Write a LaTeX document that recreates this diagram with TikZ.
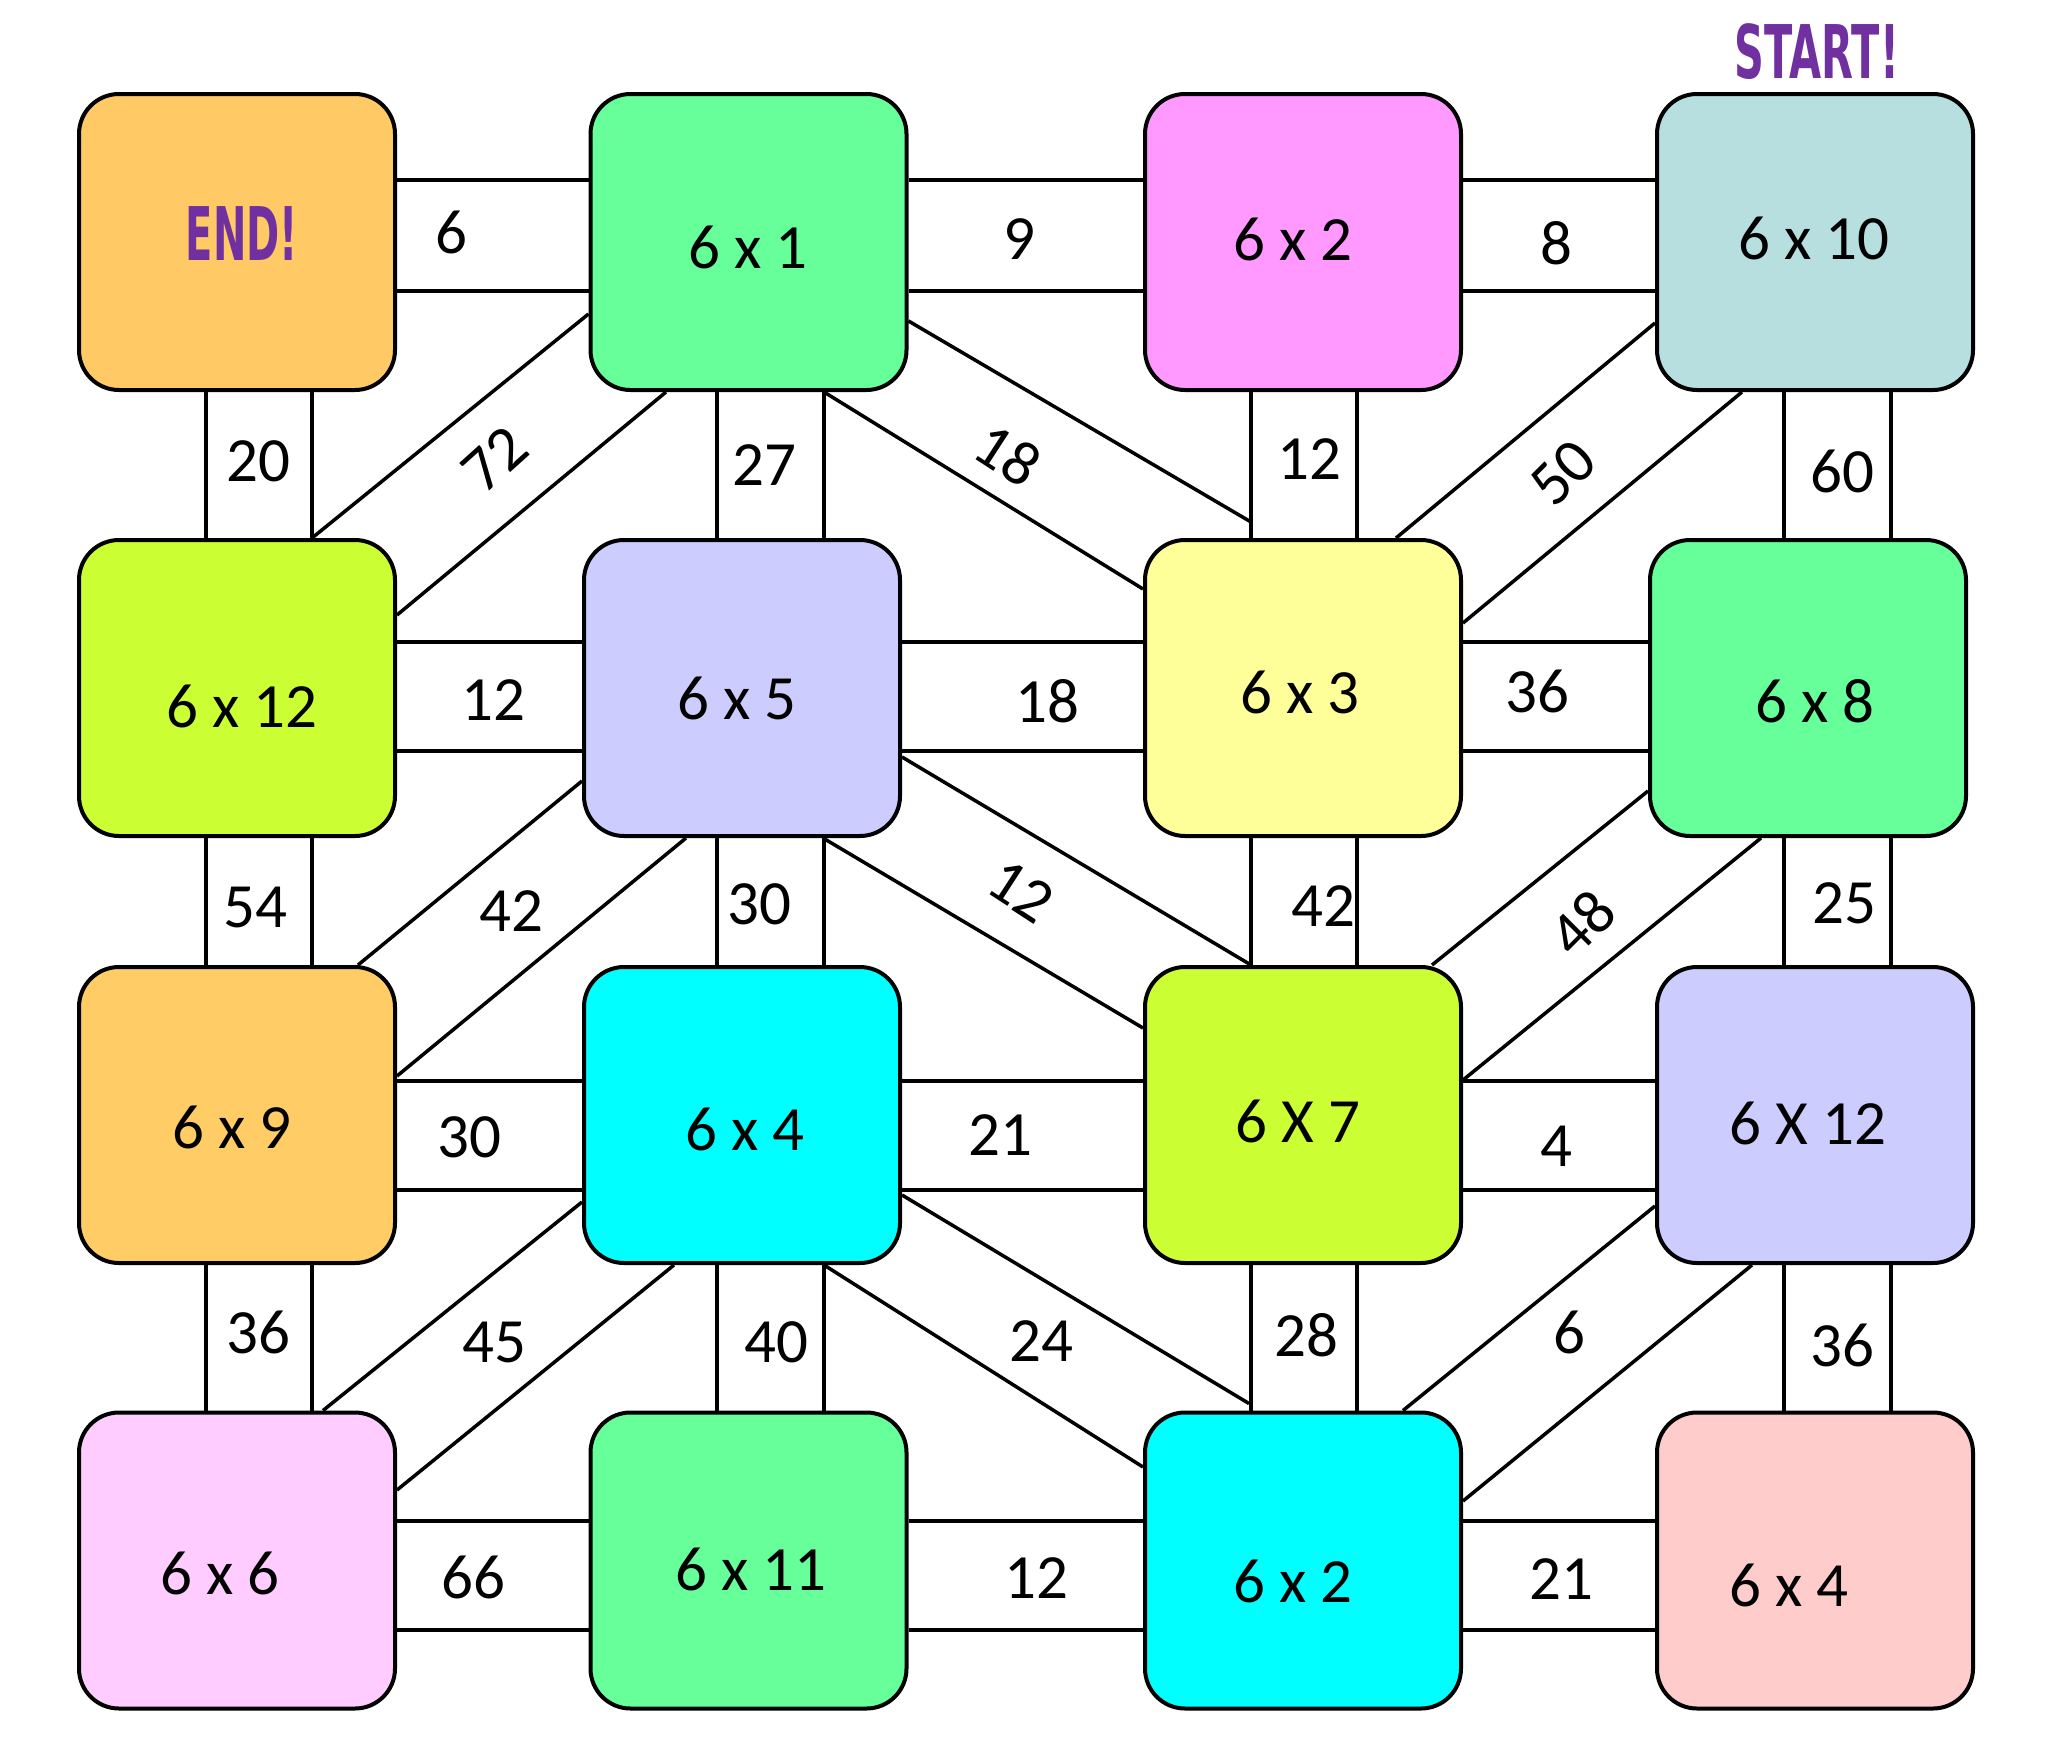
\documentclass[tikz,border=0pt]{standalone}
\usepackage{fontspec}
\usepackage{graphicx}
\setmainfont{Carlito}
\newfontfamily\handfont{DejaVu Sans}
\definecolor{cEnd}{HTML}{FFC966}
\definecolor{cMint}{HTML}{66FF99}
\definecolor{cMag}{HTML}{FF99FF}
\definecolor{cBlueGr}{HTML}{B7DFE0}
\definecolor{cLime}{HTML}{CCFF33}
\definecolor{cLav}{HTML}{CCCCFF}
\definecolor{cYel}{HTML}{FFFF99}
\definecolor{cOra}{HTML}{FFCC66}
\definecolor{cCyan}{HTML}{00FFFF}
\definecolor{cPinkL}{HTML}{FFCCFF}
\definecolor{cRose}{HTML}{FFCCCC}
\definecolor{cPurp}{HTML}{7030A0}
\begin{document}
\begin{tikzpicture}[x=1pt,y=-1pt,
  box/.style={draw=black, line width=4pt, rounded corners=40pt, minimum width=316pt, minimum height=296pt, inner sep=0pt},
  lbl/.style={font=\fontsize{63}{63}\selectfont, inner sep=0pt, text=black},
  hand/.style={font=\handfont\bfseries\fontsize{74}{74}\selectfont, text=cPurp, inner sep=0pt},
  conn/.style={line width=3.5pt, draw=black}]
\useasboundingbox (0,0) rectangle (2048,1751);
% boxes
\node[box, fill=cEnd]    (b11) at (237,242) {};
\node[box, fill=cMint]   (b12) at (748.5,242) {};
\node[box, fill=cMag]    (b13) at (1303,242) {};
\node[box, fill=cBlueGr] (b14) at (1815,242) {};
\node[box, fill=cLime]   (b21) at (237,688) {};
\node[box, fill=cLav]    (b22) at (742,688) {};
\node[box, fill=cYel]    (b23) at (1303,688) {};
\node[box, fill=cMint]   (b24) at (1808,688) {};
\node[box, fill=cOra]    (b31) at (237,1115) {};
\node[box, fill=cCyan]   (b32) at (742,1115) {};
\node[box, fill=cLime]   (b33) at (1303,1115) {};
\node[box, fill=cLav]    (b34) at (1815,1115) {};
\node[box, fill=cPinkL]  (b41) at (237,1560.5) {};
\node[box, fill=cMint]   (b42) at (748.5,1560.5) {};
\node[box, fill=cCyan]   (b43) at (1303,1560.5) {};
\node[box, fill=cRose]   (b44) at (1815,1560.5) {};
% horizontal connectors
\foreach \a/\b in {b11/b12,b12/b13,b13/b14}{
  \draw[conn] (\a.east |- 0,180) -- (\b.west |- 0,180);
  \draw[conn] (\a.east |- 0,291) -- (\b.west |- 0,291);}
\foreach \a/\b in {b21/b22,b22/b23,b23/b24}{
  \draw[conn] (\a.east |- 0,642) -- (\b.west |- 0,642);
  \draw[conn] (\a.east |- 0,751) -- (\b.west |- 0,751);}
\foreach \a/\b in {b31/b32,b32/b33,b33/b34}{
  \draw[conn] (\a.east |- 0,1081) -- (\b.west |- 0,1081);
  \draw[conn] (\a.east |- 0,1190) -- (\b.west |- 0,1190);}
\foreach \a/\b in {b41/b42,b42/b43,b43/b44}{
  \draw[conn] (\a.east |- 0,1521) -- (\b.west |- 0,1521);
  \draw[conn] (\a.east |- 0,1630) -- (\b.west |- 0,1630);}
% vertical connectors
\foreach \r/\s in {1/2,2/3,3/4}{
  \draw[conn] (b\r1.south -| 206,0) -- (b\s1.north -| 206,0);
  \draw[conn] (b\r1.south -| 312,0) -- (b\s1.north -| 312,0);
  \draw[conn] (b\r2.south -| 717,0) -- (b\s2.north -| 717,0);
  \draw[conn] (b\r2.south -| 824,0) -- (b\s2.north -| 824,0);
  \draw[conn] (b\r3.south -| 1251,0) -- (b\s3.north -| 1251,0);
  \draw[conn] (b\r3.south -| 1357,0) -- (b\s3.north -| 1357,0);
  \draw[conn] (b\r4.south -| 1784,0) -- (b\s4.north -| 1784,0);
  \draw[conn] (b\r4.south -| 1891,0) -- (b\s4.north -| 1891,0);}
% diagonal connectors rows 1-2
\draw[conn] (b12.west |- 0,314) -- (b21.north -| 312,0);
\draw[conn] (b12.south -| 666,0) -- (b21.east |- 0,615);
\draw[conn] (b12.east |- 0,321) -- ([yshift=16pt]b23.north -| 1251,0);
\draw[conn] (b12.south -| 824,0) -- (b23.west |- 0,589);
\draw[conn] (b14.west |- 0,323) -- (b23.north -| 1396,0);
\draw[conn] (b14.south -| 1742,0) -- (b23.east |- 0,623);
% rows 2-3
\draw[conn] (b22.west |- 0,781) -- (b31.north -| 358,0);
\draw[conn] (b22.south -| 686,0) -- (b31.east |- 0,1076);
\draw[conn] (b22.east |- 0,757) -- (b33.north -| 1251,0);
\draw[conn] (b22.south -| 823,0) -- (b33.west |- 0,1028);
\draw[conn] (b24.west |- 0,791) -- (b33.north -| 1432,0);
\draw[conn] (b24.south -| 1761,0) -- (b33.east |- 0,1080);
% rows 3-4
\draw[conn] (b32.west |- 0,1202) -- (b41.north -| 323,0);
\draw[conn] (b32.south -| 674,0) -- (b41.east |- 0,1490);
\draw[conn] (b32.east |- 0,1195) -- ([yshift=7pt]b43.north -| 1249,0);
\draw[conn] (b32.south -| 824,0) -- (b43.west |- 0,1467);
\draw[conn] (b34.west |- 0,1206) -- (b43.north -| 1403,0);
\draw[conn] (b34.south -| 1752,0) -- (b43.east |- 0,1501);
% box texts
\node[hand] (tend) at (242,234) {\scalebox{0.54}[1]{END!}};
\node[hand] (tstart) at (1817,52) {\scalebox{0.56}[1]{START!}};
\node[lbl] (t12) at (748,247) {6 x 1};
\node[lbl] (t13) at (1293,239) {6 x 2};
\node[lbl] (t14) at (1814,238) {6 x 10};
\node[lbl] (t21) at (242,706) {6 x 12};
\node[lbl] (t22) at (737,698) {6 x 5};
\node[lbl] (t23) at (1300,692) {6 x 3};
\node[lbl] (t24) at (1815,701) {6 x 8};
\node[lbl] (t31) at (232,1127) {6 x 9};
\node[lbl] (t32) at (745,1129) {6 x 4};
\node[lbl] (t33) at (1298,1121) {6 X 7};
\node[lbl] (t34) at (1808,1123) {6 X 12};
\node[lbl] (t41) at (220,1573) {6 x 6};
\node[lbl] (t42) at (751,1569) {6 x 11};
\node[lbl] (t43) at (1293,1581) {6 x 2};
\node[lbl] (t44) at (1789,1585) {6 x 4};
% connector numbers
\node[lbl] (n1) at (451,232) {6};
\node[lbl] (n2) at (1019,239) {9};
\node[lbl] (n3) at (1556,243) {8};
\node[lbl] (n4) at (258,461) {20};
\node[lbl, rotate=42] (n5) at (495,459) {72};
\node[lbl] (n6) at (764,465) {27};
\node[lbl, rotate=-33] (n7) at (1008,455) {18};
\node[lbl] (n8) at (1309,459) {12};
\node[lbl, rotate=45] (n9) at (1563,473) {50};
\node[lbl] (n10) at (1842,471) {60};
\node[lbl] (n11) at (493,700) {12};
\node[lbl] (n12) at (1047,701) {18};
\node[lbl] (n13) at (1537,691) {36};
\node[lbl] (n14) at (255,907) {54};
\node[lbl] (n15) at (511,911) {42};
\node[lbl] (n16) at (759,904) {30};
\node[lbl, rotate=-33] (n17) at (1021,891) {12};
\node[lbl] (n18) at (1323,906) {42};
\node[lbl, rotate=45] (n19) at (1582,923) {48};
\node[lbl] (n20) at (1844,903) {25};
\node[lbl] (n21) at (469,1137) {30};
\node[lbl] (n22) at (1000,1135) {21};
\node[lbl] (n23) at (1556,1146) {4};
\node[lbl] (n24) at (258,1332) {36};
\node[lbl] (n25) at (494,1342) {45};
\node[lbl] (n26) at (776,1342) {40};
\node[lbl] (n27) at (1041,1341) {24};
\node[lbl] (n28) at (1306,1335) {28};
\node[lbl] (n29) at (1569,1332) {6};
\node[lbl] (n30) at (1842,1345) {36};
\node[lbl] (n31) at (473,1577) {66};
\node[lbl] (n32) at (1036,1578) {12};
\node[lbl] (n33) at (1561,1579) {21};
\end{tikzpicture}
\end{document}
